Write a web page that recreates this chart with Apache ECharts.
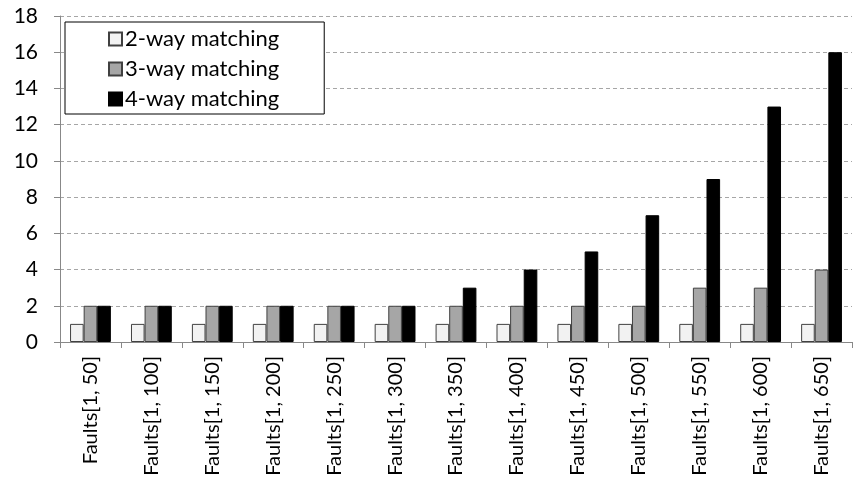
<!DOCTYPE html>
<html>
<head>
<meta charset="utf-8">
<script src="https://cdn.jsdelivr.net/npm/echarts@6/dist/echarts.min.js"></script>
<style>
  html, body { margin: 0; padding: 0; background: #fff; }
  #chart { width: 854px; height: 493px; }
</style>
</head>
<body>
<div id="chart"></div>
<script>
// Fault ranges on the x axis
const categories = [
  'Faults[1, 50]', 'Faults[1, 100]', 'Faults[1, 150]', 'Faults[1, 200]',
  'Faults[1, 250]', 'Faults[1, 300]', 'Faults[1, 350]', 'Faults[1, 400]',
  'Faults[1, 450]', 'Faults[1, 500]', 'Faults[1, 550]', 'Faults[1, 600]',
  'Faults[1, 650]'
];
const seriesNames = ['2-way matching', '3-way matching', '4-way matching'];
const twoWay   = [1, 1, 1, 1, 1, 1, 1, 1, 1, 1, 1, 1, 1];
const threeWay = [2, 2, 2, 2, 2, 2, 2, 2, 2, 2, 3, 3, 4];
const fourWay  = [2, 2, 2, 2, 2, 2, 3, 4, 5, 7, 9, 13, 16];
const yMin = 0, yMax = 18, yStep = 2;

const FONT = 'Lato';
const chart = echarts.init(document.getElementById('chart'), null, { renderer: 'canvas' });

function barSeries(name, data, fill, border) {
  return {
    name: name,
    type: 'bar',
    data: data,
    barGap: '0%',
    barCategoryGap: '33%',
    itemStyle: { color: fill, borderColor: border, borderWidth: 1 },
    animation: false
  };
}

chart.setOption({
  backgroundColor: '#ffffff',
  animation: false,
  grid: { left: 60, right: 2, top: 16, bottom: 151, containLabel: false },
  legend: {
    orient: 'vertical',
    left: 65,
    top: 22,
    padding: [5, 45, 3, 43],
    itemGap: 6,
    itemWidth: 13,
    itemHeight: 13,
    backgroundColor: '#ffffff',
    borderColor: '#000000',
    borderWidth: 1,
    icon: 'rect',
    textStyle: { fontFamily: FONT, fontSize: 22, lineHeight: 24, color: '#000', padding: [0, 0, 0, -2] },
    data: seriesNames
  },
  xAxis: {
    type: 'category',
    data: categories,
    axisLine: { show: true, lineStyle: { color: '#888888', width: 1 } },
    axisTick: { show: true, length: 6, interval: 0, alignWithLabel: false, lineStyle: { color: '#888888' } },
    axisLabel: {
      interval: 0,
      rotate: 90,
      margin: 14,
      fontFamily: FONT,
      fontSize: 20,
      color: '#000'
    },
    splitLine: { show: false }
  },
  yAxis: {
    type: 'value',
    min: yMin,
    max: yMax,
    interval: yStep,
    axisLine: { show: true, lineStyle: { color: '#888888', width: 1 } },
    axisTick: { show: true, length: 6, lineStyle: { color: '#888888' } },
    axisLabel: { margin: 22, fontFamily: FONT, fontSize: 21, color: '#000' },
    splitLine: { show: true, lineStyle: { color: '#a6a6a6', type: [4, 3], width: 1 } }
  },
  series: [
    barSeries(seriesNames[0], twoWay, '#f2f2f2', '#404040'),
    barSeries(seriesNames[1], threeWay, '#a6a6a6', '#404040'),
    barSeries(seriesNames[2], fourWay, '#000000', '#000000')
  ]
});
</script>
</body>
</html>
